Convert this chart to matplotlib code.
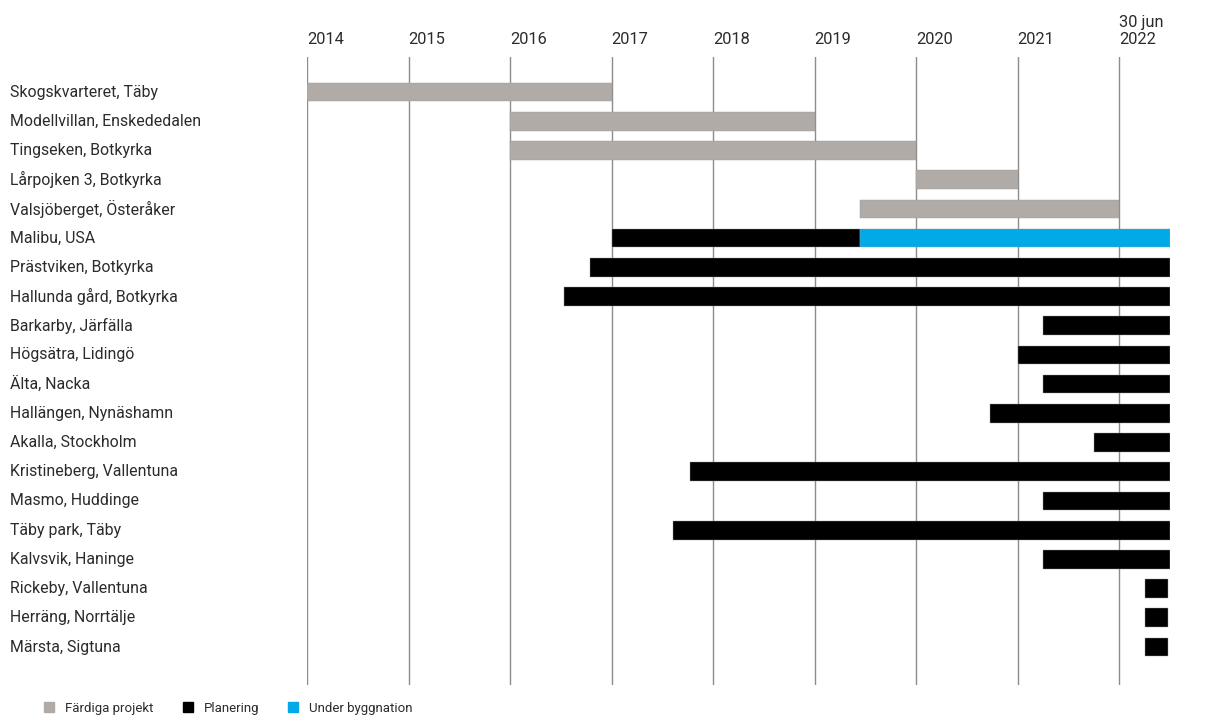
import matplotlib.pyplot as plt
from matplotlib.lines import Line2D
from matplotlib.transforms import blended_transform_factory

plt.rcParams['font.family'] = ['Roboto', 'DejaVu Sans']

# projects, top to bottom
projects = ["Skogskvarteret, Täby", "Modellvillan, Enskededalen", "Tingseken, Botkyrka",
            "Lårpojken 3, Botkyrka", "Valsjöberget, Österåker", "Malibu, USA",
            "Prästviken, Botkyrka", "Hallunda gård, Botkyrka", "Barkarby, Järfälla",
            "Högsätra, Lidingö", "Älta, Nacka", "Hallängen, Nynäshamn", "Akalla, Stockholm",
            "Kristineberg, Vallentuna", "Masmo, Huddinge", "Täby park, Täby",
            "Kalvsvik, Haninge", "Rickeby, Vallentuna", "Herräng, Norrtälje", "Märsta, Sigtuna"]

# (row, start, end, phase) in decimal years
segments = [
    (0, 2014.0, 2017.0, "done"),
    (1, 2016.0, 2019.0, "done"),
    (2, 2016.0, 2020.0, "done"),
    (3, 2020.0, 2021.0, "done"),
    (4, 2019.45, 2022.0, "done"),
    (5, 2017.0, 2019.45, "plan"),
    (5, 2019.45, 2022.5, "build"),
    (6, 2016.79, 2022.5, "plan"),
    (7, 2016.53, 2022.5, "plan"),
    (8, 2021.25, 2022.5, "plan"),
    (9, 2021.0, 2022.5, "plan"),
    (10, 2021.25, 2022.5, "plan"),
    (11, 2020.73, 2022.5, "plan"),
    (12, 2021.75, 2022.5, "plan"),
    (13, 2017.77, 2022.5, "plan"),
    (14, 2021.25, 2022.5, "plan"),
    (15, 2017.6, 2022.5, "plan"),
    (16, 2021.25, 2022.5, "plan"),
    (17, 2022.25, 2022.48, "plan"),
    (18, 2022.25, 2022.48, "plan"),
    (19, 2022.25, 2022.48, "plan"),
]

years = [2014, 2015, 2016, 2017, 2018, 2019, 2020, 2021, 2022]
year_labels = ["2014", "2015", "2016", "2017", "2018", "2019", "2020", "2021", "30 jun\n2022"]

colors = {"done": "#b0aba7", "plan": "#000000", "build": "#00aae8"}
legend_names = {"done": "Färdiga projekt", "plan": "Planering", "build": "Under byggnation"}

fig = plt.figure(figsize=(12.15, 7.18), dpi=100)
ax = fig.add_axes([307 / 1215, 1 - 685 / 718, (1170 - 307) / 1215, (685 - 57) / 718])

for yr in years:
    ax.axvline(yr, color="#8c8c8c", lw=1, zorder=0)

for row, start, end, phase in segments:
    ax.barh(row, end - start, left=start, height=0.64, color=colors[phase],
            edgecolor="#9a9a9a", linewidth=0.3, zorder=2)

ax.set_xlim(2014, 2022.5)
ax.set_ylim(len(projects) - 1 + 1.3, -1.2)
ax.axis("off")

# project names on the left
trans_y = blended_transform_factory(fig.transFigure, ax.transData)
for i, name in enumerate(projects):
    fig.text(10 / 1215, i, name, transform=trans_y, ha="left", va="center",
             fontsize=11.4, color="#2b2b2b")

# year labels above the lines
trans_x = blended_transform_factory(ax.transData, fig.transFigure)
for yr, lab in zip(years, year_labels):
    ax.text(yr, 1 - 47 / 718, lab, transform=trans_x, ha="left", va="bottom",
            fontsize=11.8, color="#2b2b2b", linespacing=1.15)

handles = [Line2D([], [], marker="s", linestyle="none", markersize=7,
                  markerfacecolor=colors[k], markeredgecolor=colors[k], label=legend_names[k])
           for k in ["done", "plan", "build"]]
fig.legend(handles=handles, loc="lower left", bbox_to_anchor=(24 / 1215, -0.012), ncol=3,
           frameon=False, fontsize=9.5, handletextpad=0.2, columnspacing=1.6,
           labelcolor="#2b2b2b")

fig.savefig("out.png", dpi=100)
